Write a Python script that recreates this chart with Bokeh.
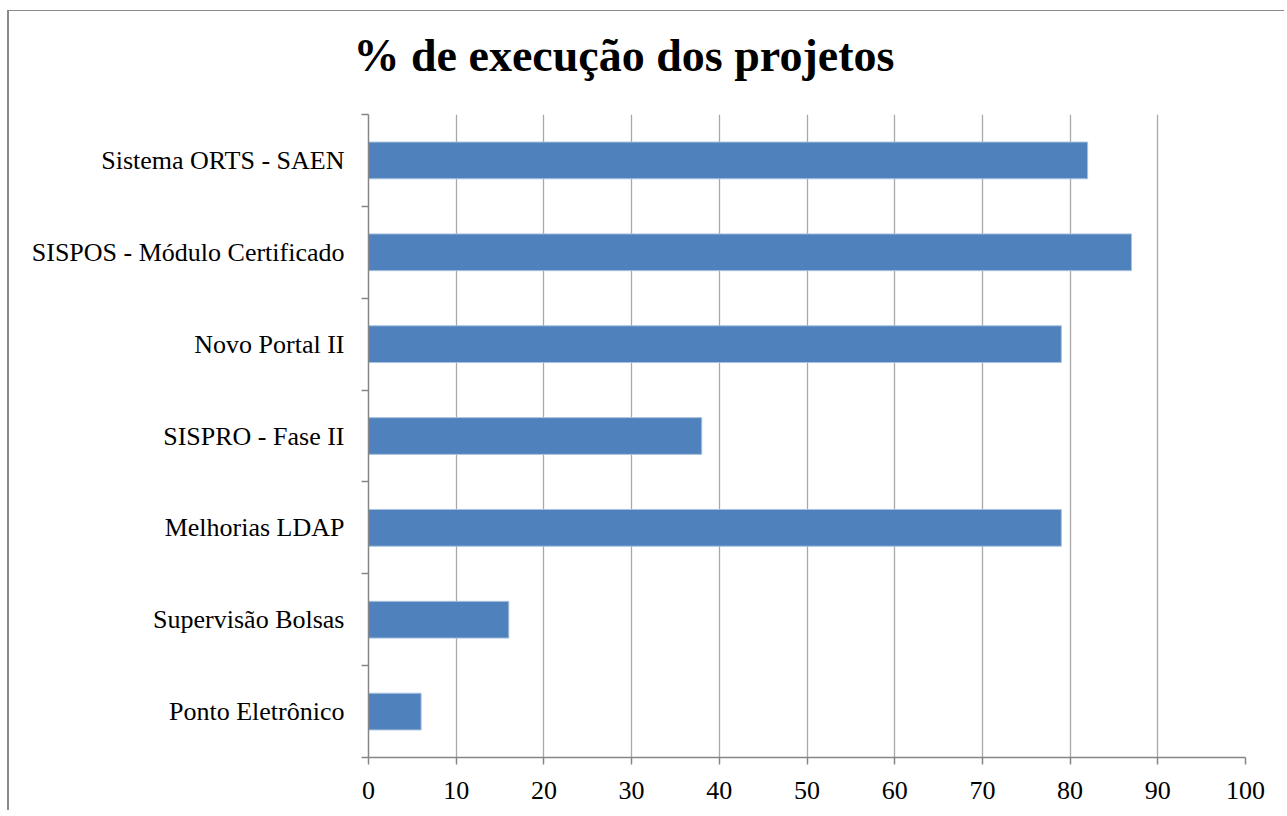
from bokeh.plotting import figure
from bokeh.models import FixedTicker, ColumnDataSource, Range1d
from bokeh.embed import file_html
from bokeh.resources import INLINE

title_text = "% de execução dos projetos"
categories = ["Sistema ORTS - SAEN", "SISPOS - Módulo Certificado", "Novo Portal II",
              "SISPRO - Fase II", "Melhorias LDAP", "Supervisão Bolsas", "Ponto Eletrônico"]
values = [82, 87, 79, 38, 79, 16, 6]
x_ticks = [0, 10, 20, 30, 40, 50, 60, 70, 80, 90, 100]

n = len(categories)
ypos = [n - 0.5 - i for i in range(n)]
src = ColumnDataSource(dict(y=ypos, v=values, name=categories))

FONT = "Liberation Serif"

p = figure(width=1277, height=800, output_backend="svg", toolbar_location=None,
           x_range=Range1d(0, 100), y_range=Range1d(0, n),
           min_border_left=359, min_border_right=41, min_border_top=103, min_border_bottom=54,
           styles={"border-left": "2px solid #8a8a8a", "border-top": "1px solid #8a8a8a",
                   "margin-top": "10px", "margin-left": "7px"})

p.hbar(y="y", right="v", left=0, height=0.4, source=src,
       fill_color="#4F81BD", line_color="#A9C1E0", line_width=1)

# trailing empty line lifts the title away from the plot frame
p.title.text = title_text + "\n"
p.title.text_font = FONT
p.title.text_font_size = "46px"
p.title.text_font_style = "bold"
p.title.text_color = "black"
p.title.text_line_height = 0.66
p.title.align = "left"
p.title.vertical_align = "bottom"
p.title.offset = -15
p.title.standoff = 0

p.outline_line_color = None
p.ygrid.grid_line_color = None
p.xgrid.ticker = FixedTicker(ticks=x_ticks)
p.xgrid.grid_line_color = "#a8a8a8"
p.xgrid.grid_line_width = 1.3

p.xaxis.ticker = FixedTicker(ticks=x_ticks)
p.xaxis.axis_line_color = "#868686"
p.xaxis.axis_line_width = 1.5
p.xaxis.major_tick_line_color = "#868686"
p.xaxis.major_tick_line_width = 1.5
p.xaxis.major_tick_out = 7
p.xaxis.major_tick_in = 0
p.xaxis.minor_tick_line_color = None
p.xaxis.major_label_text_font = FONT
p.xaxis.major_label_text_font_size = "26px"
p.xaxis.major_label_text_color = "black"
p.xaxis.major_label_standoff = 17

p.yaxis.ticker = FixedTicker(ticks=ypos, minor_ticks=list(range(n + 1)))
p.yaxis.major_label_overrides = {y: c for y, c in zip(ypos, categories)}
p.yaxis.axis_line_color = "#868686"
p.yaxis.axis_line_width = 1.5
p.yaxis.major_tick_line_color = None
p.yaxis.minor_tick_line_color = "#868686"
p.yaxis.minor_tick_line_width = 1.5
p.yaxis.minor_tick_out = 7
p.yaxis.minor_tick_in = 0
p.yaxis.major_label_text_font = FONT
p.yaxis.major_label_text_font_size = "26px"
p.yaxis.major_label_text_color = "black"
p.yaxis.major_label_standoff = 17

open("out.html", "w").write(file_html(p, INLINE))
